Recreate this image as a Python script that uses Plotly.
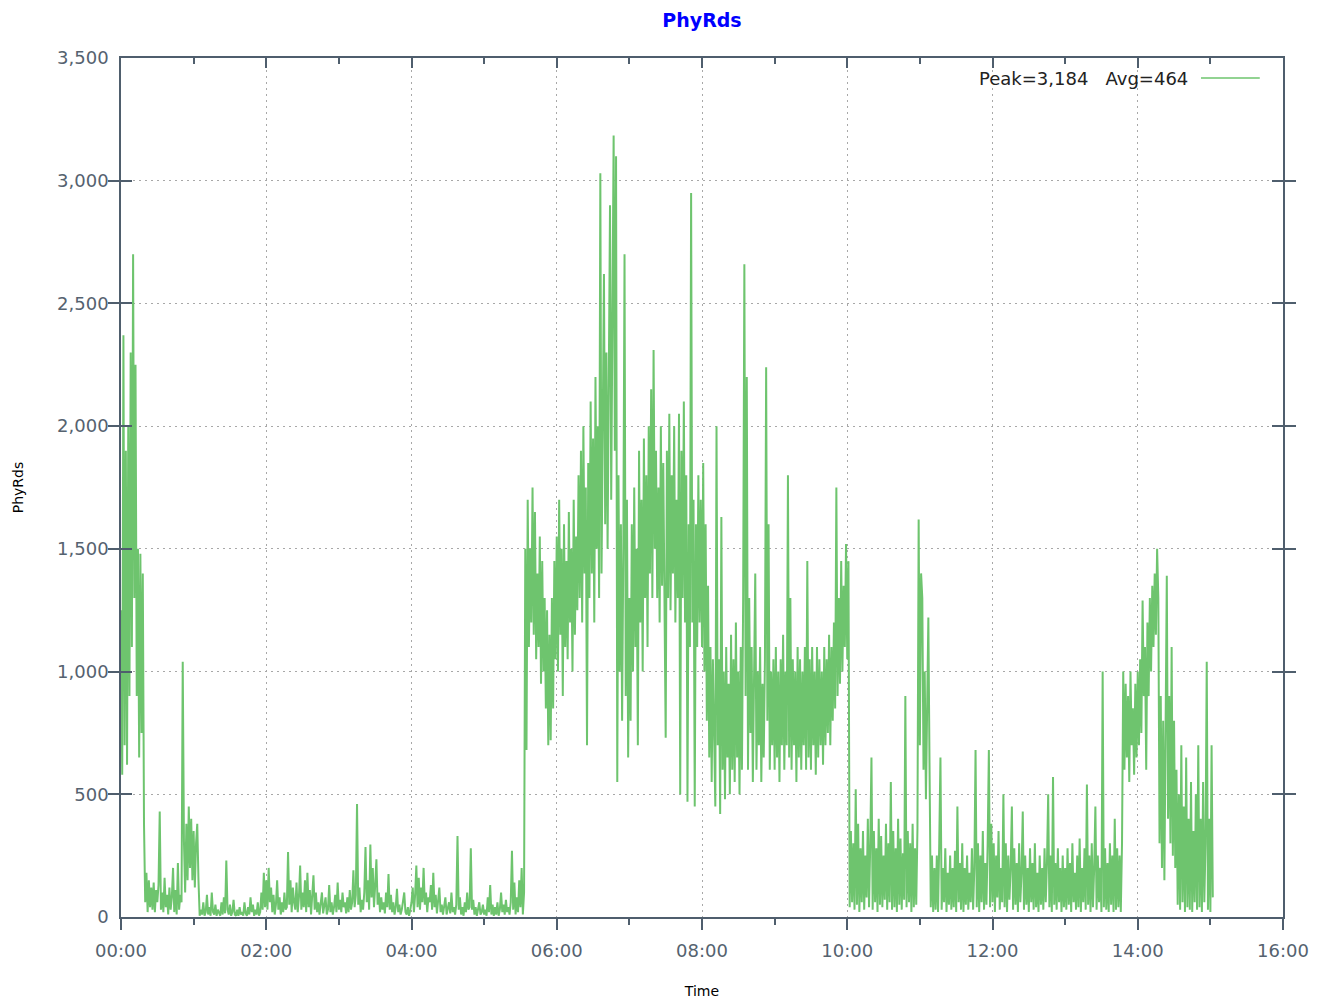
import pandas as pd
import plotly.graph_objects as go

# PhyRds samples, one per minute starting at 00:00
hour00 = [1250, 580, 2370, 700, 1900, 620, 2000, 900, 2300, 1100, 2700, 1300, 2250, 900, 1500, 650, 1480, 750, 1400,
          380, 60, 180, 20, 150, 40, 120, 30, 140, 20, 110,
          60, 130, 430, 30, 100, 20, 160, 40, 90, 10,
          120, 30, 80, 200, 20, 110, 10, 220, 30, 90,
          60, 1040, 310, 100, 380, 150, 450, 200, 400, 150]
hour01 = [350, 120, 300, 380, 150, 5, 30, 10, 60, 5,
          20, 90, 10, 40, 5, 100, 20, 10, 50, 5,
          30, 20, 5, 60, 10, 80, 15, 230, 30, 10,
          50, 5, 20, 70, 10, 5, 30, 5, 40, 10,
          20, 5, 60, 15, 5, 40, 10, 80, 20, 50,
          5, 30, 10, 60, 5, 20, 100, 30, 180, 40]
hour02 = [150, 30, 200, 60, 120, 20, 90, 10, 50, 150,
          30, 80, 10, 60, 20, 100, 30, 40, 265, 50,
          150, 20, 120, 60, 30, 140, 20, 80, 210, 30,
          100, 40, 150, 20, 180, 40, 110, 10, 90, 170,
          30, 100, 20, 60, 10, 50, 100, 15, 40, 80,
          10, 30, 130, 20, 60, 10, 40, 90, 20, 140]
hour03 = [30, 70, 20, 100, 40, 60, 15, 80, 20, 110,
          30, 60, 190, 40, 90, 460, 50, 120, 20, 70,
          30, 100, 285, 60, 150, 30, 295, 80, 200, 40,
          130, 235, 50, 100, 20, 80, 30, 60, 15, 100,
          40, 175, 30, 90, 20, 60, 10, 40, 115, 20,
          50, 10, 30, 60, 100, 20, 10, 40, 5, 30]
hour04 = [60, 120, 20, 90, 210, 40, 160, 30, 120, 60,
          200, 50, 100, 20, 80, 60, 130, 30, 180, 40,
          90, 15, 60, 120, 20, 50, 10, 40, 80, 10,
          30, 60, 15, 100, 20, 40, 10, 50, 330, 30,
          80, 10, 40, 5, 60, 20, 100, 30, 40, 280,
          30, 70, 10, 40, 5, 30, 60, 10, 20, 50]
hour05 = [10, 30, 5, 80, 20, 130, 10, 50, 5, 40,
          10, 60, 5, 30, 100, 20, 50, 10, 70, 20,
          40, 10, 60, 270, 30, 140, 10, 80, 20, 150,
          40, 200, 10, 100, 1500, 680, 1700, 1100, 1500, 1200,
          1750, 1150, 1650, 1050, 1400, 1100, 1550, 950, 1450, 1000,
          1300, 850, 1250, 700, 1150, 720, 1300, 850, 1450, 1050]
hour06 = [1550, 1000, 1700, 1150, 1500, 900, 1600, 1100, 1450, 1050,
          1650, 1200, 1500, 1000, 1700, 1150, 1550, 1250, 1800, 1300,
          1900, 1200, 2000, 1400, 1750, 700, 1850, 1300, 2100, 1400,
          1950, 1200, 2200, 1500, 2000, 1300, 3030, 1400, 2000, 2620,
          1600, 2300, 1500, 2100, 2900, 1700, 2400, 3184, 1900, 3100,
          550, 1800, 1000, 1600, 800, 1500, 2700, 900, 1700, 650]
hour07 = [1300, 800, 1600, 1000, 1750, 1100, 1500, 700, 1900, 1200,
          1700, 1000, 1950, 1300, 1800, 1100, 2000, 1400, 2150, 1300,
          2310, 1500, 1900, 1300, 1750, 1200, 2000, 1350, 1850, 1150,
          730, 1900, 1300, 2050, 1250, 1800, 1400, 2000, 1200, 1700,
          1300, 2050, 500, 1900, 1300, 2100, 1200, 1800, 470, 1600,
          1100, 2950, 1200, 1700, 450, 1600, 1100, 1800, 1200, 1700]
hour08 = [1100, 1850, 1000, 1600, 800, 1350, 650, 1100, 550, 1050,
          700, 450, 2000, 700, 1050, 420, 1630, 600, 1000, 480,
          1100, 650, 950, 500, 1150, 600, 1050, 550, 1200, 650,
          1000, 500, 1100, 600, 1300, 2660, 900, 2200, 600, 1300,
          750, 1100, 550, 1050, 1400, 600, 1000, 700, 1100, 550,
          950, 650, 1050, 2240, 800, 1600, 600, 1000, 700, 1050]
hour09 = [600, 1100, 650, 1000, 550, 1050, 700, 1150, 600, 1000,
          700, 1800, 650, 1300, 600, 1050, 700, 1000, 550, 1100,
          650, 1050, 600, 1000, 700, 1100, 600, 1450, 650, 1050,
          600, 1100, 700, 1000, 580, 1100, 650, 1050, 700, 1000,
          620, 1100, 700, 1050, 750, 1150, 700, 1100, 800, 1200,
          850, 1750, 900, 1300, 950, 1450, 1000, 1350, 1100, 1520]
hour10 = [1050, 1450, 40, 350, 60, 300, 30, 520, 50, 380,
          20, 280, 60, 350, 30, 250, 80, 400, 40, 300,
          650, 30, 350, 60, 280, 20, 400, 50, 330, 40,
          250, 70, 380, 30, 300, 60, 550, 30, 350, 40,
          280, 20, 400, 50, 320, 30, 260, 70, 900, 40,
          350, 60, 300, 20, 380, 40, 280, 50, 360, 1620]
hour11 = [700, 1400, 1300, 600, 1000, 480, 900, 1220, 600, 40,
          250, 20, 200, 30, 250, 20, 300, 650, 30, 200,
          60, 280, 20, 180, 50, 250, 30, 200, 40, 270,
          20, 450, 60, 220, 30, 300, 20, 200, 50, 250,
          30, 180, 60, 280, 30, 200, 680, 40, 300, 20,
          250, 60, 350, 30, 220, 50, 300, 680, 40, 380]
hour12 = [60, 300, 20, 250, 80, 350, 30, 200, 60, 500,
          40, 300, 20, 250, 70, 200, 450, 30, 280, 50,
          220, 20, 300, 60, 180, 430, 30, 250, 50, 200,
          20, 280, 60, 220, 30, 300, 40, 180, 20, 250,
          50, 200, 30, 280, 60, 220, 500, 40, 250, 20,
          570, 50, 220, 30, 280, 60, 200, 20, 250, 40]
hour13 = [200, 30, 280, 50, 220, 20, 300, 60, 180, 30,
          250, 40, 320, 20, 200, 60, 280, 30, 540, 50,
          250, 20, 300, 40, 200, 450, 30, 250, 60, 200,
          20, 1000, 40, 280, 30, 220, 20, 300, 50, 250,
          20, 400, 30, 280, 40, 250, 20, 300, 1000, 600,
          950, 650, 900, 550, 1000, 700, 850, 580, 950, 650]
hour14 = [1000, 700, 1050, 750, 1290, 900, 1100, 600, 1200, 900,
          1300, 1000, 1350, 1100, 1400, 1150, 1500, 1300, 300, 900,
          200, 800, 150, 700, 1390, 400, 900, 300, 1100, 250,
          800, 200, 600, 50, 500, 30, 700, 60, 450, 20,
          650, 40, 400, 30, 550, 20, 350, 60, 500, 30,
          700, 40, 400, 20, 550, 60, 300, 1040, 30, 400]
hour15 = [20, 700, 80]

AVG_LABEL = 464
START = "2024-01-01 00:00"
END = "2024-01-01 16:00"

values = (hour00 + hour01 + hour02 + hour03 + hour04 + hour05 + hour06 + hour07 +
          hour08 + hour09 + hour10 + hour11 + hour12 + hour13 + hour14 + hour15)
times = pd.date_range(START, periods=len(values), freq="1min")

AXIS = "#4f5e6d"
TICKFONT = dict(family="DejaVu Sans", size=18, color="#55626f")
GREEN = "rgb(110,196,110)"
GRID = dict(showgrid=True, gridcolor="#a8a8a8", griddash="2px,4px", gridwidth=1)

fig = go.Figure()
fig.add_trace(go.Scatter(x=times, y=values, mode="lines",
                         line=dict(color=GREEN, width=2), showlegend=False))
fig.add_trace(go.Scatter(x=[times[0], times[-1]], y=[None, None], xaxis="x2",
                         mode="lines", showlegend=False, hoverinfo="skip"))

common_x = dict(type="date", range=[START, END], tick0=START, dtick=7200000,
                showline=True, linecolor=AXIS, linewidth=1.5, zeroline=False,
                automargin=False)

fig.update_layout(
    width=1323, height=1000,
    margin=dict(l=121, r=40, t=58, b=83),
    paper_bgcolor="white", plot_bgcolor="white",
    title=dict(text="<b>PhyRds</b>", x=(121 + 1283) / 2 / 1323, xanchor="center",
               y=1 - 20 / 1000, yanchor="middle",
               font=dict(family="DejaVu Sans", size=19, color="#0000ff")),
    xaxis=dict(**common_x, tickformat="%H:%M", ticks="outside", ticklen=11,
               tickcolor=AXIS, tickwidth=1.5, tickfont=TICKFONT,
               ticklabelstandoff=6, **GRID,
               minor=dict(dtick=3600000, ticks="outside", ticklen=6,
                          tickcolor=AXIS, tickwidth=1.5, showgrid=False),
               title=dict(text="Time", standoff=26,
                          font=dict(family="DejaVu Sans", size=14, color="black"))),
    xaxis2=dict(**common_x, overlaying="x", side="top", ticks="inside", ticklen=10,
                tickcolor=AXIS, tickwidth=1.5, showticklabels=False, showgrid=False,
                minor=dict(dtick=3600000, ticks="inside", ticklen=6,
                           tickcolor=AXIS, tickwidth=1.5, showgrid=False)),
    yaxis=dict(range=[0, 3500], dtick=500, tickformat=",", ticks="inside",
               ticklen=11, tickcolor=AXIS, tickwidth=1.5, tickfont=TICKFONT,
               showline=True, linecolor=AXIS, linewidth=1.5, mirror="allticks",
               **GRID, zeroline=False, ticklabelstandoff=7, automargin=False,
               title=dict(text="PhyRds", standoff=30,
                          font=dict(family="DejaVu Sans", size=14, color="black"))),
)

peak = max(values)
fig.add_annotation(xref="paper", yref="paper", x=0.92, y=0.9767,
                   xanchor="right", yanchor="middle", showarrow=False,
                   text=f"Peak={peak:,}   Avg={AVG_LABEL:,}",
                   font=dict(family="DejaVu Sans", size=18, color="#222222"))
fig.add_shape(type="line", xref="paper", yref="paper", x0=0.9294, x1=0.980,
              y0=0.9767, y1=0.9767, line=dict(color=GREEN, width=1.5))

fig.write_html("out.html", config={"displayModeBar": False},
               post_script="document.body.style.margin='0';document.body.style.overflow='hidden';")
